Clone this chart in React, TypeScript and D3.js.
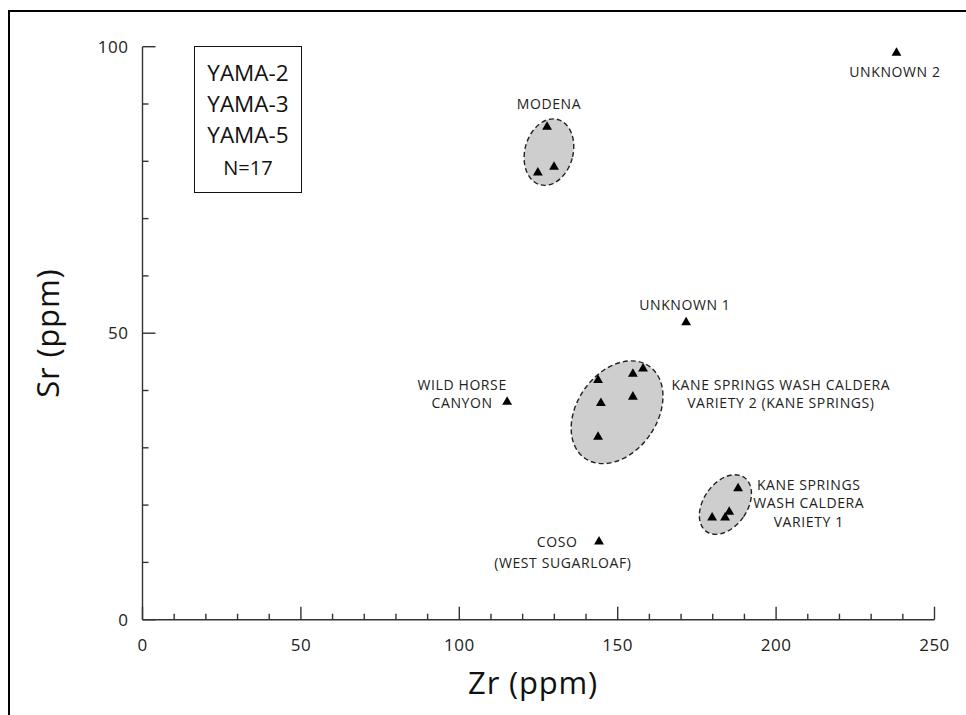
import React from "react";
import * as d3 from "d3";

// Zr / Sr values (ppm), one per specimen
const zrValues = [238.0, 127.7, 124.8, 129.9, 171.6, 115.1, 143.8, 144.7, 143.8, 154.8, 158.0, 154.8, 179.8, 183.9, 185.2, 188.0, 144.1];
const srValues = [98.9, 86.0, 78.0, 79.0, 51.9, 38.0, 41.8, 37.8, 31.9, 42.9, 43.8, 38.9, 17.8, 17.8, 18.8, 22.9, 13.6];

// source envelopes: centre + radii in data units, tilt in degrees
const envNames = ["MODENA", "KANE SPRINGS VAR 2", "KANE SPRINGS VAR 1"];
const envZr = [128.3, 149.8, 184.0];
const envSr = [81.6, 36.2, 20.1];
const envRz = [7.6, 12.6, 6.9];
const envRs = [5.9, 9.8, 5.76];
const envTilt = [15, 35, 35];

// source labels, anchored in data units
const labelLines = [
  ["MODENA"],
  ["UNKNOWN 2"],
  ["UNKNOWN 1"],
  ["WILD HORSE", "CANYON"],
  ["KANE SPRINGS WASH CALDERA", "VARIETY 2 (KANE SPRINGS)"],
  ["KANE SPRINGS", "WASH CALDERA", "VARIETY 1"],
  ["COSO"],
  ["(WEST SUGARLOAF)"],
];
const labelZr = [128.3, 237.5, 171.2, 100.9, 201.5, 210.3, 130.9, 132.7];
const labelSr = [90.0, 95.6, 54.9, 41.0, 41.0, 23.5, 13.55, 9.9];

const legendLines = ["YAMA-2", "YAMA-3", "YAMA-5", "N=17"];

const xTicks = d3.range(0, 251, 10);
const yTicks = d3.range(0, 101, 10);

export default function App() {
  const W = 966, H = 715;
  const x = d3.scaleLinear().domain([0, 250]).range([142.5, 934.5]);
  const y = d3.scaleLinear().domain([0, 100]).range([619.7, 46.7]);
  const font = "'Open Sans', 'DejaVu Sans', sans-serif";
  const tri = d3.symbol().type(d3.symbolTriangle).size(42)();

  return (
    <svg width={W} height={H} style={{ position: "absolute", left: 0, top: 0, background: "#fff" }} fontFamily={font}>
      {/* outer frame */}
      <rect x={9} y={11} width={1000} height={800} fill="none" stroke="#000" strokeWidth={2} />

      {/* envelopes */}
      {envNames.map((n, i) => {
        const cx = x(envZr[i]), cy = y(envSr[i]);
        const rx = x(envZr[i] + envRz[i]) - cx;
        const ry = cy - y(envSr[i] + envRs[i]);
        return (
          <ellipse key={n} cx={cx} cy={cy} rx={rx} ry={ry}
            transform={`rotate(${envTilt[i]},${cx},${cy})`}
            fill="#cecece" stroke="#222" strokeWidth={1.4} strokeDasharray="5,3" />
        );
      })}

      {/* axes */}
      <g stroke="#333" strokeWidth={1.4}>
        <line x1={x(0)} x2={x(250)} y1={y(0)} y2={y(0)} />
        <line x1={x(0)} x2={x(0)} y1={y(0)} y2={y(100)} />
        {xTicks.map((t) => (
          <line key={"xt" + t} x1={x(t)} x2={x(t)} y1={y(0)} y2={y(0) - (t % 50 === 0 ? 13 : 6)} />
        ))}
        {yTicks.map((t) => (
          <line key={"yt" + t} y1={y(t)} y2={y(t)} x1={x(0)} x2={x(0) + (t % 50 === 0 ? 13 : 6)} />
        ))}
      </g>
      <g fontSize={17} fill="#222">
        {xTicks.filter((t) => t % 50 === 0).map((t) => (
          <text key={"xl" + t} x={x(t)} y={y(0) + 25} dy="0.35em" textAnchor="middle" letterSpacing={0.5}>{t}</text>
        ))}
        {yTicks.filter((t) => t % 50 === 0).map((t) => (
          <text key={"yl" + t} x={x(0) - 14} y={y(t)} dy="0.35em" textAnchor="end" letterSpacing={0.5}>{t}</text>
        ))}
      </g>
      <text x={533} y={683} dy="0.35em" textAnchor="middle" fontSize={31} letterSpacing={0.8} fill="#111">Zr (ppm)</text>
      <text transform={`translate(48,${(y(0) + y(100)) / 2}) rotate(-90)`} dy="0.35em" textAnchor="middle" fontSize={31} letterSpacing={0.8} fill="#111">Sr (ppm)</text>

      {/* legend box */}
      <rect x={194.5} y={46.5} width={107} height={146} fill="#fff" stroke="#111" strokeWidth={1} />
      {legendLines.map((l, i) => (
        <text key={l} x={248} y={[73, 104, 135, 168][i]} dy="0.35em" textAnchor="middle" fontSize={i < 3 ? 22.5 : 20} fill="#111">{l}</text>
      ))}

      {/* specimens */}
      {zrValues.map((z, i) => (
        <path key={"p" + i} d={tri} transform={`translate(${x(z)},${y(srValues[i])})`} fill="#000" />
      ))}

      {/* labels */}
      <g fontSize={14} fill="#222" letterSpacing={0.6} textAnchor="middle">
        {labelLines.map((lines, i) =>
          lines.map((l, j) => (
            <text key={i + "-" + j} x={x(labelZr[i])} y={y(labelSr[i]) + j * 18.5} dy="0.35em">{l}</text>
          ))
        )}
      </g>
    </svg>
  );
}
